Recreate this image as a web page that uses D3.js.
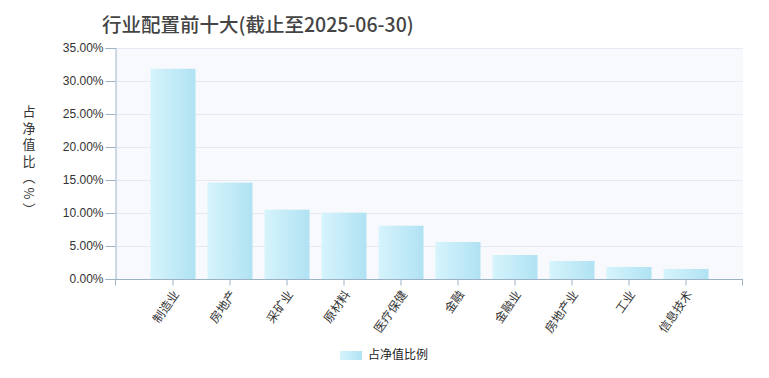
<!DOCTYPE html>
<html>
<head>
<meta charset="utf-8">
<script src="https://cdn.jsdelivr.net/npm/d3@7"></script>
<style>
  html, body { margin: 0; padding: 0; background: #fff; }
  svg { display: block; font-family: "Liberation Sans", Arial, sans-serif; }
  .tick text { fill: #333; font-size: 12px; }
</style>
</head>
<body>
<svg id="chart" width="769" height="378"></svg>
<script>
// data
const categories = ['制造业', '房地产', '采矿业', '原材料', '医疗保健', '金融', '金融业', '房地产业', '工业', '信息技术'];
const shares = [31.85, 14.6, 10.5, 10.05, 8.07, 5.6, 3.64, 2.73, 1.82, 1.52];
const yTicks = [0, 5, 10, 15, 20, 25, 30, 35];

const svg = d3.select('#chart');
const plot = { left: 116, right: 743, top: 48, bottom: 279 };

const defs = svg.append('defs');
const grad = defs.append('linearGradient').attr('id', 'barFill')
  .attr('x1', '0%').attr('x2', '100%').attr('y1', '0%').attr('y2', '0%');
grad.append('stop').attr('offset', '0%').attr('stop-color', '#d6f4fc');
grad.append('stop').attr('offset', '100%').attr('stop-color', '#b0e2f3');

const step = (plot.right - plot.left) / (categories.length + 1);
const x = d3.scaleBand()
  .domain(categories)
  .range([plot.left + step / 2, plot.right - step / 2])
  .paddingInner(0.2)
  .paddingOuter(0.1);

const y = d3.scaleLinear().domain([0, 35]).range([plot.bottom, plot.top]);

// plot background
svg.append('rect')
  .attr('x', plot.left).attr('y', plot.top)
  .attr('width', plot.right - plot.left).attr('height', plot.bottom - plot.top)
  .attr('fill', '#f8f9fc');

// grid
svg.append('g').selectAll('line')
  .data(yTicks.filter((t) => t > 0))
  .join('line')
  .attr('x1', plot.left).attr('x2', plot.right)
  .attr('y1', (d) => Math.round(y(d)) + 0.5).attr('y2', (d) => Math.round(y(d)) + 0.5)
  .attr('stroke', '#e4eaf3').attr('stroke-width', 1);

// bars
const bw = 45;
svg.append('g').selectAll('rect')
  .data(categories)
  .join('rect')
  .attr('x', (d) => x(d) + x.bandwidth() / 2 - bw / 2)
  .attr('width', bw)
  .attr('y', (d, i) => y(shares[i]))
  .attr('height', (d, i) => y(0) - y(shares[i]))
  .attr('fill', 'url(#barFill)');

const axisColor = '#9cb3c6';

// y axis
const yAxis = svg.append('g')
  .attr('transform', `translate(${plot.left - 0.5},0)`)
  .call(d3.axisLeft(y).tickValues(yTicks).tickSize(10).tickPadding(2)
    .tickFormat((d) => d3.format('.2f')(d) + '%'));
yAxis.select('.domain').attr('stroke', axisColor);
yAxis.selectAll('.tick line').attr('stroke', axisColor);
yAxis.selectAll('.tick text').attr('font-size', 12).attr('fill', '#333');

// x axis
const xAxis = svg.append('g')
  .attr('transform', `translate(0,${plot.bottom + 0.5})`)
  .call(d3.axisBottom(x).tickSize(6).tickSizeOuter(0));
xAxis.select('.domain').remove();
xAxis.append('line')
  .attr('x1', plot.left).attr('x2', plot.right)
  .attr('stroke', axisColor);
xAxis.selectAll('.tick line').attr('stroke', axisColor);
[plot.left, plot.right].forEach((px) => {
  xAxis.append('line').attr('x1', px - 0.5).attr('x2', px - 0.5).attr('y1', 0).attr('y2', 6)
    .attr('stroke', axisColor);
});
xAxis.selectAll('.tick text')
  .attr('font-family', '"Noto Sans CJK SC", sans-serif')
  .attr('font-size', 11)
  .attr('fill', '#222')
  .attr('text-anchor', 'end')
  .attr('dy', null)
  .attr('y', null)
  .attr('transform', 'translate(4,13) rotate(-55)')
  .attr('dominant-baseline', 'middle');

// title
svg.append('text')
  .attr('x', 102).attr('y', 32)
  .attr('font-family', '"Noto Sans CJK SC", sans-serif')
  .attr('font-size', 19.5)
  .attr('font-weight', 500)
  .attr('fill', '#444')
  .text('行业配置前十大(截止至2025-06-30)');

// y axis title, vertical writing
svg.append('text')
  .attr('x', 29).attr('y', 105)
  .style('writing-mode', 'vertical-rl')
  .attr('font-family', '"Noto Sans CJK SC", sans-serif')
  .attr('font-size', 13)
  .attr('letter-spacing', 3.5)
  .attr('fill', '#333')
  .text('占净值比（%）');

// legend
const legend = svg.append('g').attr('transform', 'translate(340,351)');
legend.append('rect').attr('width', 22).attr('height', 9).attr('fill', 'url(#barFill)');
legend.append('text')
  .attr('x', 28).attr('y', 5)
  .attr('dominant-baseline', 'middle')
  .attr('font-family', '"Noto Sans CJK SC", sans-serif')
  .attr('font-size', 12)
  .attr('fill', '#222')
  .text('占净值比例');
</script>
</body>
</html>
